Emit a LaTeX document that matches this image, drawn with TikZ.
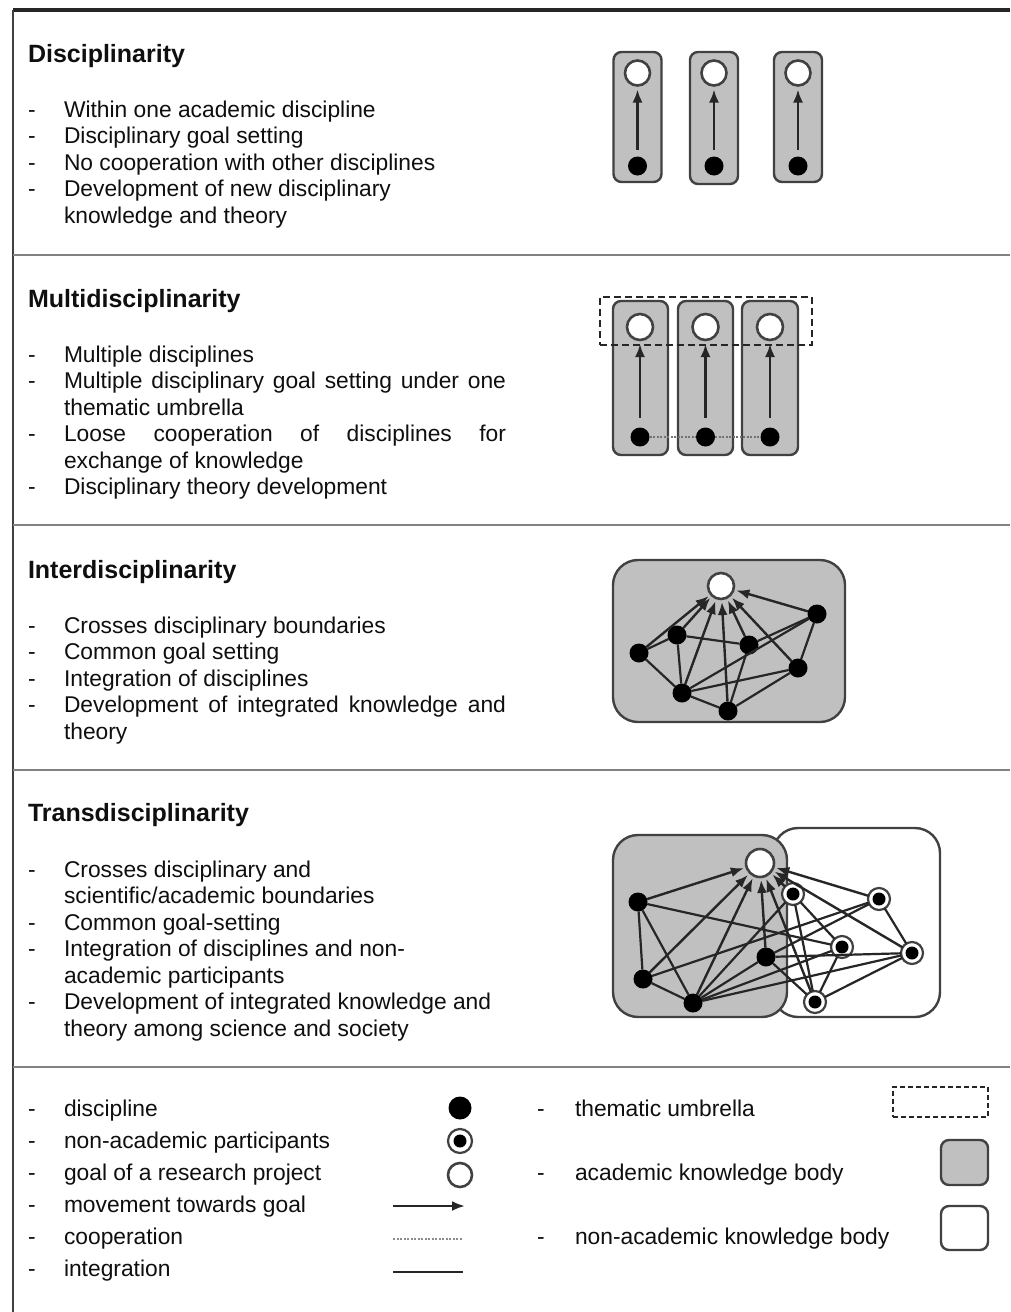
\documentclass[tikz,border=0pt]{standalone}
\usepackage{fontspec}
\setmainfont{Liberation Sans}
\usetikzlibrary{arrows.meta}
\definecolor{bodygray}{RGB}{192,192,192}
\definecolor{edgegray}{RGB}{65,65,65}
\definecolor{sepgray}{RGB}{130,130,130}
\definecolor{txt}{RGB}{15,15,15}
\newcommand\bitem[3]{\node[item] (#1d) at (28,#2) {-}; \node[item] (#1) at (64,#2) {#3};}
\newcommand\citem[3]{\node[item] (#1) at (64,#2) {#3};}
\newcommand\jitem[3]{\node[item] (#1d) at (28,#2) {-}; \node[item] (#1) at (64,#2) {\makebox[442pt][s]{#3}};}
\tikzset{
 every node/.style={inner sep=0pt, outer sep=0pt},
 ttl/.style={anchor=base west, font=\fontsize{25}{30}\selectfont\bfseries, text=txt},
 item/.style={anchor=base west, font=\fontsize{22.8}{26.5}\selectfont, text=txt},
 bx/.style={draw=edgegray, fill=bodygray, line width=2.4pt, rounded corners=8pt},
 wbx/.style={draw=edgegray, fill=white, line width=2.4pt, rounded corners=8pt},
 dot/.style={circle, fill=black, minimum size=19pt},
 goal/.style={circle, draw=edgegray, fill=white, line width=2.6pt, minimum size=25pt},
 nac/.style={circle, draw=edgegray, fill=white, line width=2.2pt, minimum size=22pt,
   path picture={\fill[black] (path picture bounding box.center) circle[radius=6.5pt];}},
 mv/.style={draw=black!85, line width=2.4pt, -{Latex[length=13pt,width=10pt]}},
 ig/.style={draw=black!85, line width=2.2pt},
 coop/.style={draw=black!55, line width=2.6pt, dash pattern=on 2pt off 1.5pt},
 umb/.style={draw=black!85, line width=2.6pt, dash pattern=on 7pt off 4pt},
 sep/.style={draw=sepgray, line width=2.2pt},
}
\begin{document}
\begin{tikzpicture}[x=1pt,y=-1pt]
\useasboundingbox (0,0) rectangle (1010,1312);
\fill[white] (0,0) rectangle (1010,1312);
% frame
\coordinate (ftr) at (1010,10); \coordinate (ftl) at (13,10); \coordinate (fbl) at (13,1312);
\draw[black!85, line width=3.2pt] (ftr) -- (ftl);
\draw[black!75, line width=2.4pt] (ftl) -- (fbl);
\foreach \yy/\nm in {255/a,525/b,770/c,1067/d}{
  \coordinate (sl\nm) at (13,\yy); \coordinate (sr\nm) at (1010,\yy);
  \draw[sep] (sl\nm) -- (sr\nm);
}
% ---------- Section 1 text
\node[ttl] (t1) at (28,62) {Disciplinarity};
\bitem{d1}{117}{Within one academic discipline}
\bitem{d2}{143.5}{Disciplinary goal setting}
\bitem{d3}{170}{No cooperation with other disciplines}
\bitem{d4}{196.5}{Development of new disciplinary}
\citem{d5}{223}{knowledge and theory}
% ---------- Section 1 diagram
\node[bx, minimum width=48pt, minimum height=130pt] (s1b1) at (637.5,117) {};
\node[bx, minimum width=48pt, minimum height=132pt] (s1b2) at (714,118) {};
\node[bx, minimum width=48pt, minimum height=130pt] (s1b3) at (798,117) {};
\foreach \i/\xx in {1/637.5,2/714,3/798}{
  \node[goal] (s1g\i) at (\xx,73) {};
  \node[dot] (s1d\i) at (\xx,166) {};
  \draw[mv, shorten <=7pt, shorten >=4pt] (s1d\i) -- (s1g\i);
}
% ---------- Section 2 text
\node[ttl] (t2) at (28,307) {Multidisciplinarity};
\bitem{m1}{362}{Multiple disciplines}
\jitem{m2}{388.5}{Multiple disciplinary goal setting under one}
\citem{m3}{415}{thematic umbrella}
\jitem{m4}{441.5}{Loose cooperation of disciplines for}
\citem{m5}{468}{exchange of knowledge}
\bitem{m6}{494.5}{Disciplinary theory development}
% ---------- Section 2 diagram
\node[bx, minimum width=55pt, minimum height=154pt] (s2b1) at (640.5,378) {};
\node[bx, minimum width=55pt, minimum height=154pt] (s2b2) at (705.5,378) {};
\node[bx, minimum width=56pt, minimum height=154pt] (s2b3) at (770,378) {};
\node[umb, minimum width=212pt, minimum height=48pt] (s2u) at (706,321) {};
\foreach \i/\xx in {1/640,2/705.5,3/770}{
  \node[goal, minimum size=26pt] (s2g\i) at (\xx,327) {};
  \node[dot] (s2d\i) at (\xx,437) {};
  \draw[mv, shorten <=10pt, shorten >=4pt] (s2d\i) -- (s2g\i);
}
\draw[coop] (s2d1) -- (s2d2) -- (s2d3);
% ---------- Section 3 text
\node[ttl] (t3) at (28,578) {Interdisciplinarity};
\bitem{i1}{633}{Crosses disciplinary boundaries}
\bitem{i2}{659.5}{Common goal setting}
\bitem{i3}{686}{Integration of disciplines}
\jitem{i4}{712.5}{Development of integrated knowledge and}
\citem{i5}{739}{theory}
% ---------- Section 3 diagram
\node[bx, rounded corners=25pt, minimum width=232pt, minimum height=162pt] (s3b) at (729,641) {};
\node[goal, minimum size=26pt] (s3g) at (721,586) {};
\node[dot] (s3a) at (639,653) {};
\node[dot] (s3b1) at (677,635) {};
\node[dot] (s3c) at (749,645) {};
\node[dot] (s3d) at (817,614) {};
\node[dot] (s3e) at (798,668) {};
\node[dot] (s3f) at (682,693) {};
\node[dot] (s3h) at (728,711) {};
\foreach \n in {s3a,s3b1,s3f,s3h,s3c,s3e,s3d}{
  \draw[mv, shorten >=3pt] (\n) -- (s3g);
}
\draw[ig] (s3a) -- (s3b1);
\draw[ig] (s3a) -- (s3f);
\draw[ig] (s3b1) -- (s3f);
\draw[ig] (s3b1) -- (s3c);
\draw[ig] (s3c) -- (s3d);
\draw[ig] (s3f) -- (s3d);
\draw[ig] (s3f) -- (s3e);
\draw[ig] (s3f) -- (s3h);
\draw[ig] (s3c) -- (s3h);
\draw[ig] (s3h) -- (s3e);
\draw[ig] (s3d) -- (s3e);
% ---------- Section 4 text
\node[ttl] (t4) at (28,821) {Transdisciplinarity};
\bitem{r1}{877}{Crosses disciplinary and}
\citem{r2}{903.5}{scientific/academic boundaries}
\bitem{r3}{930}{Common goal-setting}
\bitem{r4}{956.5}{Integration of disciplines and non-}
\citem{r5}{983}{academic participants}
\bitem{r6}{1009.5}{Development of integrated knowledge and}
\citem{r7}{1036}{theory among science and society}
% ---------- Section 4 diagram
\node[wbx, rounded corners=25pt, minimum width=167pt, minimum height=189pt] (s4w) at (856.5,922.5) {};
\node[bx, rounded corners=25pt, minimum width=174pt, minimum height=182pt] (s4k) at (700,926) {};
\node[goal, minimum size=28pt] (s4g) at (760,863) {};
\node[dot] (A1) at (638,902) {};
\node[dot] (A2) at (643,979) {};
\node[dot] (A3) at (693,1003) {};
\node[dot] (A4) at (766,957) {};
\node[nac] (N1) at (793,894) {};
\node[nac] (N2) at (879,899) {};
\node[nac] (N3) at (842,947) {};
\node[nac] (N4) at (912,953) {};
\node[nac] (N5) at (815,1002) {};
\foreach \n in {A1,A2,A3,A4,N5,N1,N4,N2}{
  \draw[mv, shorten >=3pt] (\n) -- (s4g);
}
\draw[ig] (A1) -- (A2);
\draw[ig] (A1) -- (A3);
\draw[ig] (A2) -- (A3);
\draw[ig] (A1) -- (N3);
\draw[ig] (A2) -- (N2);
\draw[ig] (A3) -- (N1);
\draw[ig] (A3) -- (N3);
\draw[ig] (A3) -- (N4);
\draw[ig] (A3) -- (A4);
\draw[ig] (A4) -- (N4);
\draw[ig] (A4) -- (N2);
\draw[ig] (A4) -- (N5);
\draw[ig] (N1) -- (N5);
\draw[ig] (N1) -- (N3);
\draw[ig] (N2) -- (N4);
\draw[ig] (N3) -- (N5);
\draw[ig] (N5) -- (N4);
% ---------- Legend
\bitem{l1}{1116}{discipline}
\bitem{l2}{1148}{non-academic participants}
\bitem{l3}{1180}{goal of a research project}
\bitem{l4}{1212}{movement towards goal}
\bitem{l5}{1244}{cooperation}
\bitem{l6}{1276}{integration}
\node[item] (lr1d) at (537,1116) {-}; \node[item] (lr1) at (575,1116) {thematic umbrella};
\node[item] (lr2d) at (537,1180) {-}; \node[item] (lr2) at (575,1180) {academic knowledge body};
\node[item] (lr3d) at (537,1244) {-}; \node[item] (lr3) at (575,1244) {non-academic knowledge body};
\node[dot, minimum size=23pt] (ls1) at (460,1108) {};
\node[nac, minimum size=24pt] (ls2) at (460,1141) {};
\node[goal, minimum size=24pt] (ls3) at (460,1175) {};
\coordinate (la1) at (393,1206); \coordinate (la2) at (465,1206);
\draw[mv, line width=2.6pt] (la1) -- (la2);
\coordinate (lc1) at (393,1239); \coordinate (lc2) at (463,1239);
\draw[coop, draw=black!45, line width=2.4pt] (lc1) -- (lc2);
\coordinate (li1) at (393,1272); \coordinate (li2) at (463,1272);
\draw[ig, line width=2.6pt] (li1) -- (li2);
\node[umb, line width=2.4pt, dash pattern=on 5pt off 3pt, minimum width=95pt, minimum height=30pt] (lu) at (940.5,1102) {};
\node[bx, minimum width=47pt, minimum height=45pt] (lk) at (964.5,1162.5) {};
\node[wbx, minimum width=47pt, minimum height=44pt] (lw) at (964.5,1228) {};
\end{tikzpicture}
\end{document}
